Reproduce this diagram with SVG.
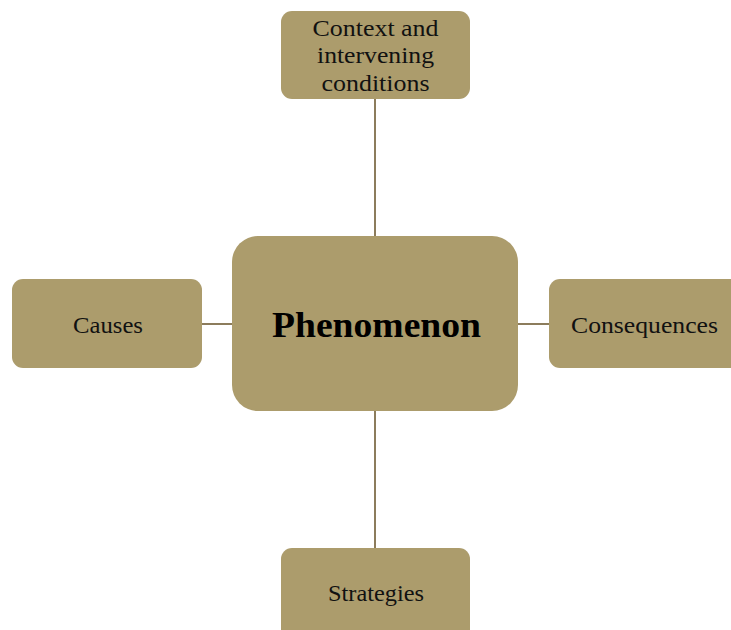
<svg xmlns="http://www.w3.org/2000/svg" width="731" height="630" viewBox="0 0 731 630">
  <style>
    .box { fill: #ac9c6c; }
    .lbl { font-family: "Liberation Serif", "Times New Roman", serif; font-size: 23px; fill: #111; text-anchor: middle; }
    .main { font-family: "Liberation Serif", "Times New Roman", serif; font-size: 35px; font-weight: bold; fill: #000; text-anchor: middle; }
    .link { stroke: #8c7c5c; stroke-width: 2; fill: none; }
  </style>
  <rect width="731" height="630" fill="#ffffff"/>

  <g id="connectors">
    <line class="link" x1="375" y1="99" x2="375" y2="236"/>
    <line class="link" x1="375" y1="411" x2="375" y2="548"/>
    <line class="link" x1="202" y1="324" x2="232" y2="324"/>
    <line class="link" x1="518" y1="324" x2="549" y2="324"/>
  </g>

  <g id="context">
    <rect class="box" x="281" y="11" width="189" height="88" rx="11"/>
    <text class="lbl" x="375.5" y="36" textLength="126" lengthAdjust="spacingAndGlyphs">Context and</text>
    <text class="lbl" x="375.5" y="63" textLength="117" lengthAdjust="spacingAndGlyphs">intervening</text>
    <text class="lbl" x="375.5" y="91" textLength="108" lengthAdjust="spacingAndGlyphs">conditions</text>
  </g>

  <g id="phenomenon">
    <rect class="box" x="232" y="236" width="286" height="175" rx="26"/>
    <text class="main" x="376.5" y="337" textLength="209" lengthAdjust="spacingAndGlyphs">Phenomenon</text>
  </g>

  <g id="causes">
    <rect class="box" x="12" y="279" width="190" height="89" rx="11"/>
    <text class="lbl" x="108" y="333" textLength="70" lengthAdjust="spacingAndGlyphs">Causes</text>
  </g>

  <g id="consequences">
    <rect class="box" x="549" y="279" width="192" height="89" rx="11"/>
    <text class="lbl" x="644.5" y="333" textLength="147" lengthAdjust="spacingAndGlyphs">Consequences</text>
  </g>

  <g id="strategies">
    <rect class="box" x="281" y="548" width="189" height="92" rx="11"/>
    <text class="lbl" x="376" y="601" textLength="96" lengthAdjust="spacingAndGlyphs">Strategies</text>
  </g>
</svg>
